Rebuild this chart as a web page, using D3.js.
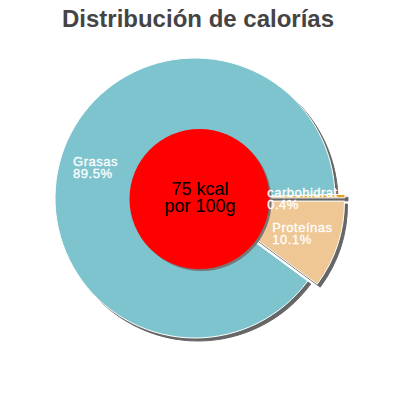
<!DOCTYPE html>
<html lang="es">
<head>
  <meta charset="UTF-8">
  <title>Distribución de calorías</title>
  <script src="https://cdn.jsdelivr.net/npm/d3@7"></script>
  <style>
    html, body {
      margin: 0;
      padding: 0;
      background: #fff;
    }
    svg {
      display: block;
      font-family: "Liberation Sans", Arial, sans-serif;
    }
  </style>
</head>
<body>
  <svg id="chart" width="400" height="400"></svg>
  <script>
    // data
    const categories = ['carbohidratos', 'Proteínas', 'Grasas'];
    const values = [0.4, 10.1, 89.5];
    const sliced = [true, true, false];
    const centerLines = ['75 kcal', 'por 100g'];
    const titleText = 'Distribución de calorías';

    const width = 400, height = 400;
    const cx = 195, cy = 198, radius = 140;
    const explode = 10;
    const labelRadius = 108;

    const color = d3.scaleOrdinal()
      .domain(categories)
      .range(['#e3a11f', '#efc794', '#7ec4ce']);

    const svg = d3.select('#chart');

    svg.append('text')
      .attr('x', 198)
      .attr('y', 27)
      .attr('text-anchor', 'middle')
      .attr('font-size', 24)
      .attr('font-weight', 'bold')
      .attr('fill', '#444')
      .text(titleText);

    const data = categories.map((c, i) => ({name: c, value: values[i], sliced: sliced[i]}));

    // small slices start just above 3 o'clock, going clockwise
    const start = Math.PI / 2 - values[0] / d3.sum(values) * 2 * Math.PI;
    const pie = d3.pie()
      .sort(null)
      .value(d => d.value)
      .startAngle(start)
      .endAngle(start + 2 * Math.PI);

    const arcs = pie(data);
    const arc = d3.arc().innerRadius(0).outerRadius(radius);

    function offset(d) {
      if(!d.data.sliced) return [0, 0];
      const a = (d.startAngle + d.endAngle) / 2;
      return [Math.sin(a) * explode, -Math.cos(a) * explode];
    }

    const g = svg.append('g').attr('transform', `translate(${cx},${cy})`);

    // shadow first
    g.selectAll('path.shadow')
      .data(arcs)
      .join('path')
      .attr('class', 'shadow')
      .attr('d', arc)
      .attr('transform', d => {
        const [dx, dy] = offset(d);
        return `translate(${dx + 3},${dy + 3})`;
      })
      .attr('fill', '#666')
      .attr('stroke', '#666')
      .attr('stroke-width', 1);

    g.selectAll('path.slice')
      .data(arcs)
      .join('path')
      .attr('class', 'slice')
      .attr('d', arc)
      .attr('transform', d => {
        const [dx, dy] = offset(d);
        return `translate(${dx},${dy})`;
      })
      .attr('fill', d => color(d.data.name))
      .attr('stroke', '#fff')
      .attr('stroke-width', 1);

    // red centre disc
    const rcx = 199.5, rcy = 199, rr = 70;
    svg.append('circle')
      .attr('cx', rcx + 2).attr('cy', rcy + 2).attr('r', rr)
      .attr('fill', '#777');
    svg.append('circle')
      .attr('cx', rcx).attr('cy', rcy).attr('r', rr)
      .attr('fill', '#ff0000');

    svg.append('text')
      .attr('text-anchor', 'middle')
      .attr('font-size', 18)
      .attr('fill', '#000')
      .selectAll('tspan')
      .data(centerLines)
      .join('tspan')
      .attr('x', 200)
      .attr('y', (d, i) => 195 + i * 17)
      .text(d => d);

    // labels on top, clipped like the original
    svg.append('clipPath')
      .attr('id', 'lblclip')
      .append('rect')
      .attr('x', 0).attr('y', 0)
      .attr('width', 338).attr('height', height);

    const labelArc = d3.arc().innerRadius(labelRadius).outerRadius(labelRadius);
    const lg = svg.append('g').attr('clip-path', 'url(#lblclip)');

    arcs.forEach(d => {
      const [lx, ly] = labelArc.centroid(d);
      const t = lg.append('text')
        .attr('font-size', 13)
        .attr('letter-spacing', 0.5)
        .attr('fill', '#fff')
        .attr('stroke', '#fff')
        .attr('stroke-width', 0.3);
      const lines = [d.data.name, d3.format('.1f')(d.data.value) + '%'];
      lines.forEach((s, i) => {
        t.append('tspan').attr('x', 0).attr('dy', i ? 12 : 0).text(s);
      });
      const w = d3.max(t.selectAll('tspan').nodes(), n => n.getComputedTextLength());
      t.attr('transform', `translate(${cx + lx - 0.42 * w},${cy + ly})`);
    });
  </script>
</body>
</html>
